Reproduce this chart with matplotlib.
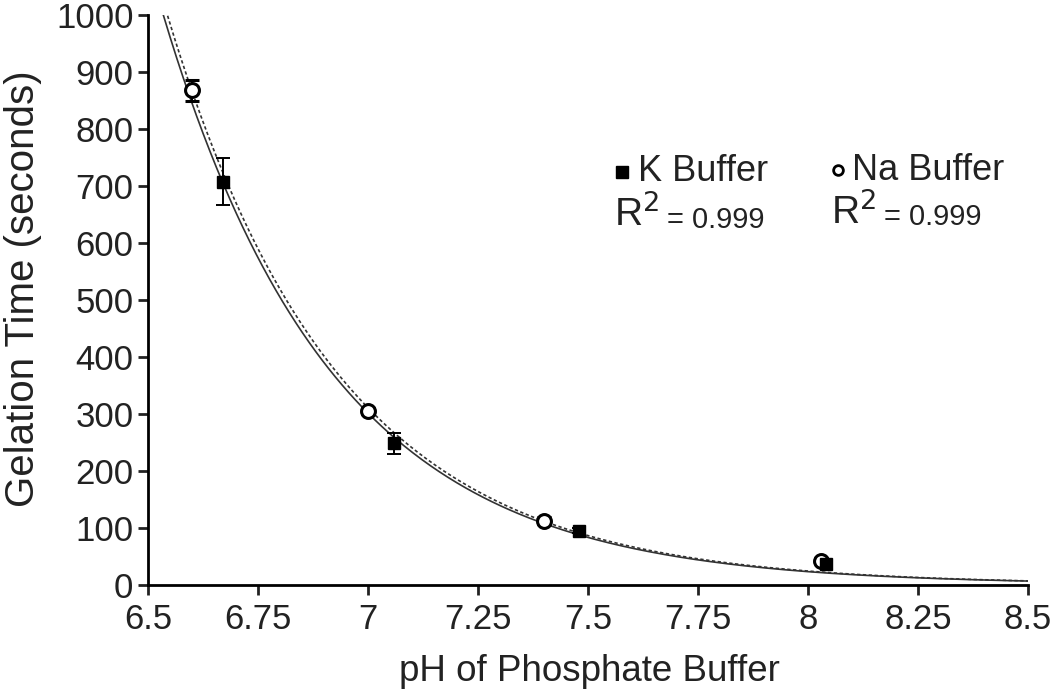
import numpy as np
from matplotlib import pyplot as plt

# dados
ph_na = [6.60, 7.00, 7.40, 8.03]
tempo_na = [868, 305, 112, 42]
erro_na = [19, 6, 6, 4]

ph_k = [6.67, 7.06, 7.48, 8.04]
tempo_k = [708, 248, 95, 37]
erro_k = [42, 19, 5, 4]

xticks = [6.5, 6.75, 7, 7.25, 7.5, 7.75, 8, 8.25, 8.5]
xlabels = ["6.5", "6.75", "7", "7.25", "7.5", "7.75", "8", "8.25", "8.5"]
yticks = [0, 100, 200, 300, 400, 500, 600, 700, 800, 900, 1000]


#Ajuste exponencial y = A*exp(-k*(x-6.5)) por minimos quadrados
def ajusteExp(x, y):
    x = np.array(x) - 6.5
    y = np.array(y, dtype=float)
    melhor = None
    for k in np.linspace(1.0, 4.0, 3001):
        e = np.exp(-k * x)
        a = np.sum(y * e) / np.sum(e * e)
        sse = np.sum((y - a * e) ** 2)
        if melhor is None or sse < melhor[0]:
            melhor = (sse, a, k)
    return melhor[1], melhor[2]


plt.rcParams['font.family'] = ['Liberation Sans', 'DejaVu Sans']
fig = plt.figure(figsize=(10.5, 6.96), dpi=100)
ax = fig.add_axes([0.141, 0.16, 0.838, 0.818])

xs = np.linspace(6.5, 8.5, 400)
aK, kK = ajusteExp(ph_k, tempo_k)
aN, kN = ajusteExp(ph_na, tempo_na)
ax.plot(xs, aK * np.exp(-kK * (xs - 6.5)), color='#333333', lw=1.2, ls='-')
ax.plot(xs, aN * np.exp(-kN * (xs - 6.5)), color='#333333', lw=1.2, ls=(0, (2, 1.5)))

ax.errorbar(ph_na, tempo_na, yerr=erro_na, fmt='o', ms=10, mfc='white', mec='black',
            mew=2.2, ecolor='black', elinewidth=1.4, capsize=5, capthick=1.4, zorder=3)
ax.errorbar(ph_k, tempo_k, yerr=erro_k, fmt='s', ms=9, mfc='black', mec='black',
            ecolor='black', elinewidth=1.4, capsize=5, capthick=1.4, zorder=3)

ax.set_xlim(6.5, 8.5)
ax.set_ylim(0, 1000)
ax.set_xticks(xticks)
ax.set_xticklabels(xlabels)
ax.set_yticks(yticks)
ax.spines['top'].set_visible(False)
ax.spines['right'].set_visible(False)
ax.spines['left'].set_linewidth(2)
ax.spines['bottom'].set_linewidth(2)
ax.tick_params(axis='both', labelsize=25, width=2, length=7, colors='#222222')
ax.tick_params(axis='x', pad=6)
ax.set_xlabel("pH of Phosphate Buffer", fontsize=26.5, color='#222222', va='top')
ax.set_ylabel("Gelation Time (seconds)", fontsize=29, color='#222222')
ax.xaxis.set_label_coords(0.502, -0.122)
ax.yaxis.set_label_coords(-0.12, 0.52)

# legenda manual
ax.plot([0.539], [0.725], 's', ms=8, color='black', transform=ax.transAxes, clip_on=False)
ax.text(0.557, 0.725, "K Buffer", fontsize=26, va='center', transform=ax.transAxes, color='#222222')
ax.text(0.530, 0.650, "R$^2$", fontsize=28, va='center', transform=ax.transAxes, color='#222222')
ax.text(0.590, 0.640, "= 0.999", fontsize=21, va='center', transform=ax.transAxes, color='#222222')

ax.plot([0.784], [0.728], 'o', ms=7, mfc='white', mec='black', mew=2, transform=ax.transAxes, clip_on=False)
ax.text(0.800, 0.728, "Na Buffer", fontsize=26, va='center', transform=ax.transAxes, color='#222222')
ax.text(0.776, 0.655, "R$^2$", fontsize=28, va='center', transform=ax.transAxes, color='#222222')
ax.text(0.836, 0.645, "= 0.999", fontsize=21, va='center', transform=ax.transAxes, color='#222222')

fig.savefig("out.png", dpi=100)
